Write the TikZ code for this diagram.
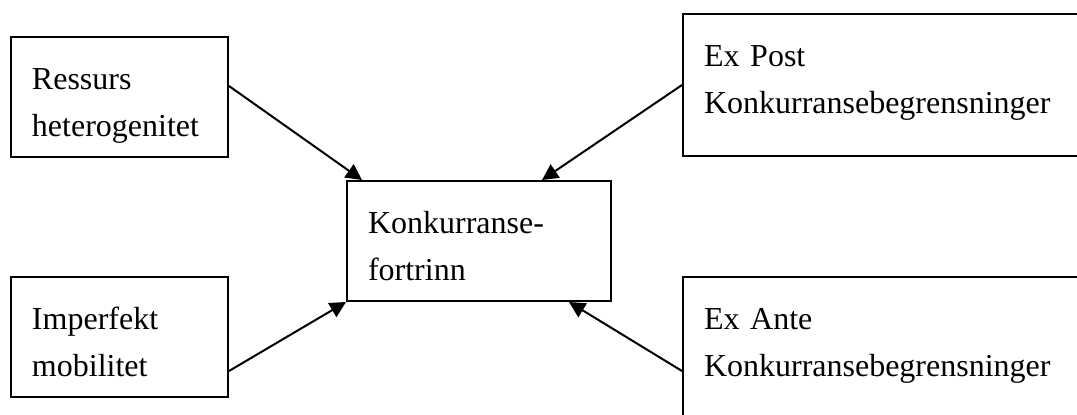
\documentclass[tikz,border=0pt]{standalone}
\usepackage{fontspec}
\setmainfont{Liberation Serif}
\usetikzlibrary{arrows.meta}

\tikzset{
  factbox/.style={draw, line width=1pt, anchor=north west, align=left,
    inner xsep=10.5pt, inner ysep=0pt, text height=26pt,
    font=\fontsize{16}{23.5}\selectfont},
  pointer/.style={line width=1pt, -{Triangle[length=8pt,width=8pt]}}
}

\begin{document}
\begin{tikzpicture}[x=0.5pt,y=0.5pt,yscale=-1,xscale=1]
        %set diagram frame 1077 x 414, outer boxes run past it
        \clip (0,0) rectangle (1077,414);

        %Shape: Rectangle [id:ressurs]
        \node [factbox, text width=87.5pt, text depth=34pt] (ressurs) at (10,36) {Ressurs\\heterogenitet};
        %Shape: Rectangle [id:imperfekt]
        \node [factbox, text width=87.5pt, text depth=34pt] (imperfekt) at (10,276) {Imperfekt\\mobilitet};
        %Shape: Rectangle [id:fortrinn]
        \node [factbox, text width=111pt, text depth=34pt] (fortrinn) at (346,180) {Konkurranse-\\fortrinn};
        %Shape: Rectangle [id:expost]
        \node [factbox, text width=184pt, text depth=45pt] (expost) at (682,13) {Ex Post\\Konkurransebegrensninger};
        %Shape: Rectangle [id:exante]
        \node [factbox, text width=184pt, text depth=50pt] (exante) at (682,276) {Ex Ante\\Konkurransebegrensninger};

        %Straight Lines [id:ressurs-fortrinn] (shifts are flipped by yscale=-1)
        \draw [pointer] ([yshift=-5.5pt]ressurs.east) -- ([xshift=8pt]fortrinn.north west);
        %Straight Lines [id:expost-fortrinn]
        \draw [pointer] (expost.west) -- ([xshift=-35pt]fortrinn.north east);
        %Straight Lines [id:imperfekt-fortrinn]
        \draw [pointer] ([yshift=17pt]imperfekt.east) -- (fortrinn.south west);
        %Straight Lines [id:exante-fortrinn]
        \draw [pointer] ([yshift=47.5pt]exante.north west) -- ([xshift=-21.5pt]fortrinn.south east);

\end{tikzpicture}
\end{document}
